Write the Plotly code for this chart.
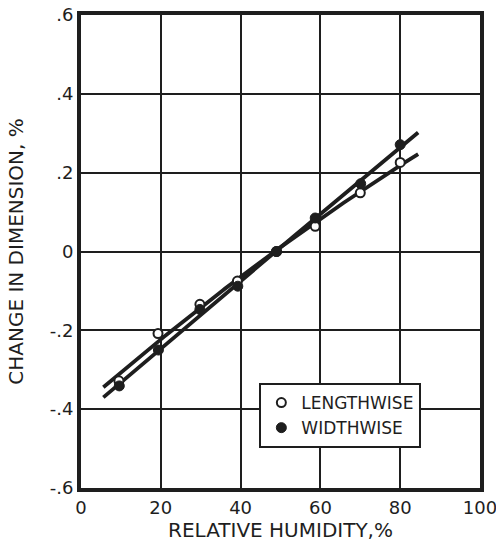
import numpy as np
import plotly.graph_objects as go

# Relative humidity (%) at which each specimen was measured
humidity_length = [9.5, 19.3, 29.8, 39.2, 49.0, 58.7, 70.0, 80.0]
humidity_width = [9.6, 19.4, 29.8, 39.3, 49.0, 58.7, 70.1, 80.0]

# Change in dimension (%)
lengthwise = [-0.328, -0.208, -0.134, -0.075, 0.0, 0.064, 0.149, 0.226]
widthwise = [-0.341, -0.250, -0.147, -0.088, 0.0, 0.085, 0.172, 0.271]

x_ticks = [0, 20, 40, 60, 80, 100]
x_tick_text = ["0", "20", "40", "60", "80", "100"]
y_ticks = [-0.6, -0.4, -0.2, 0, 0.2, 0.4, 0.6]
y_tick_text = ["-.6", "-.4", "-.2", "0", ".2", ".4", ".6"]

# Span of the smoothed curves drawn through each series
curve_span = [5.6, 84.5]

ink = "#1e1e1e"
font_family = "DejaVu Sans, Lato, sans-serif"


def smooth_curve(xs, ys):
    coeffs = np.polyfit(xs, ys, 2)
    xx = np.linspace(curve_span[0], curve_span[1], 120)
    return xx, np.polyval(coeffs, xx)


fig = go.Figure()

for xs, ys in ((humidity_length, lengthwise), (humidity_width, widthwise)):
    cx, cy = smooth_curve(xs, ys)
    fig.add_trace(go.Scatter(
        x=cx, y=cy, mode="lines", showlegend=False, hoverinfo="skip",
        line=dict(color=ink, width=3.8),
    ))

fig.add_trace(go.Scatter(
    x=humidity_length, y=lengthwise, mode="markers", name="LENGTHWISE",
    marker=dict(symbol="circle", size=9, color="white",
                line=dict(color=ink, width=2)),
))
fig.add_trace(go.Scatter(
    x=humidity_width, y=widthwise, mode="markers", name="WIDTHWISE",
    marker=dict(symbol="circle", size=10, color=ink,
                line=dict(color=ink, width=1)),
))

fig.update_layout(
    width=496, height=542,
    margin=dict(l=81, r=16, t=15, b=54),
    paper_bgcolor="white", plot_bgcolor="white",
    font=dict(family=font_family, color=ink, size=17),
    legend=dict(
        x=0.447, y=0.222, xanchor="left", yanchor="top",
        bgcolor="white", bordercolor=ink, borderwidth=2,
        font=dict(size=17, family=font_family, color=ink),
        itemwidth=30, tracegroupgap=0,
    ),
    xaxis=dict(
        range=[0, 100], tickvals=x_ticks, ticktext=x_tick_text,
        showgrid=True, gridcolor=ink, gridwidth=1.5,
        showline=True, linecolor=ink, linewidth=4, mirror=True,
        ticks="", zeroline=False, ticklabeloverflow="allow",
        automargin=False,
        tickfont=dict(size=18),
        title=dict(text="RELATIVE HUMIDITY,%", font=dict(size=20), standoff=4),
    ),
    yaxis=dict(
        range=[-0.6, 0.6], tickvals=y_ticks, ticktext=y_tick_text,
        showgrid=True, gridcolor=ink, gridwidth=1.5,
        showline=True, linecolor=ink, linewidth=4, mirror=True,
        ticks="", zeroline=False, automargin=False,
        tickfont=dict(size=18),
        title=dict(text="CHANGE IN DIMENSION, %", font=dict(size=20), standoff=22),
    ),
)

fig.write_html("out.html")
